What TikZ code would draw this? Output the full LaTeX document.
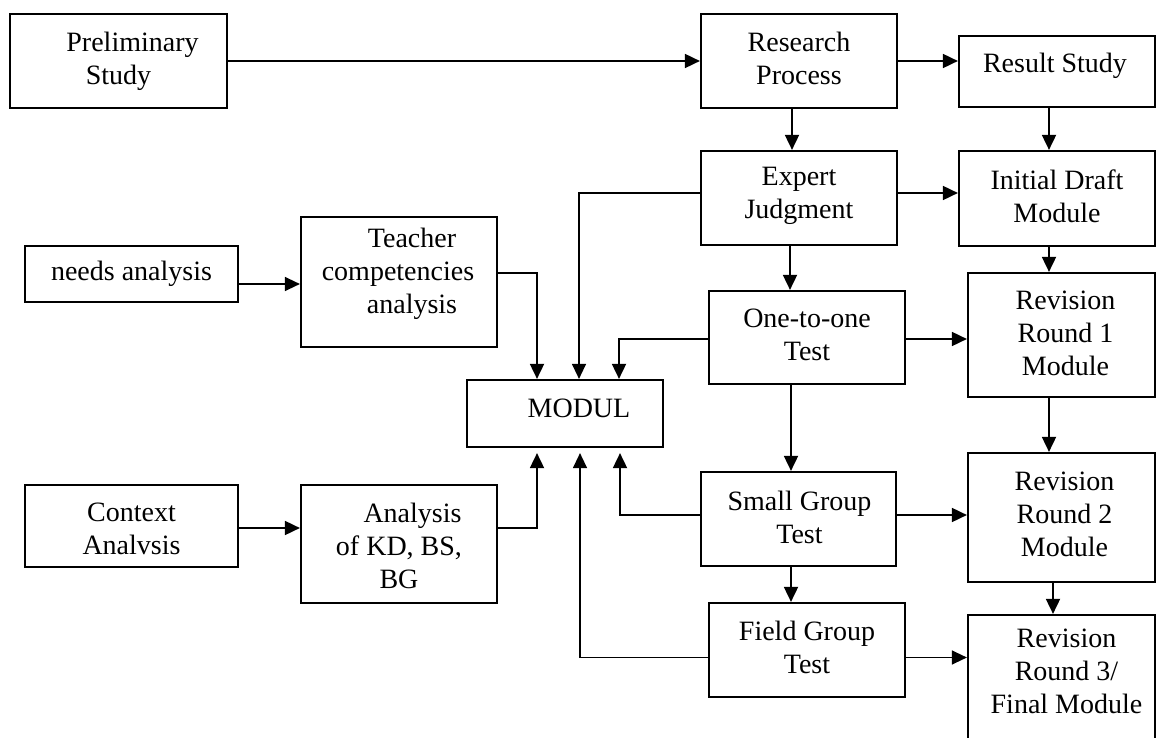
\documentclass[tikz,border=0pt]{standalone}
\usepackage{fontspec}
\setmainfont{Liberation Serif}
\usetikzlibrary{arrows.meta}
\begin{document}
\begin{tikzpicture}[x=1pt, y=-1pt,
  box/.style={draw, line width=2.2pt, inner sep=0pt},
  txt/.style={font=\fontsize{28}{33}\selectfont, align=center, inner sep=0pt},
  arr/.style={line width=1.8pt, -{Triangle[length=15pt,width=14pt]}},
  thinline/.style={line width=1.3pt},
  upgap/.style={shorten >=5pt}]
\useasboundingbox (0,0) rectangle (1157,738);

% ---- boxes ----
\node[box, minimum width=217pt, minimum height=94pt]  (PS)  at (118.5,61)  {};
\node[box, minimum width=196pt, minimum height=94pt]  (RP)  at (799,61)    {};
\node[box, minimum width=196pt, minimum height=71pt]  (RS)  at (1057,71.5) {};
\node[box, minimum width=196pt, minimum height=94pt]  (EJ)  at (799,198)   {};
\node[box, minimum width=196pt, minimum height=95pt]  (IDM) at (1057,198.5){};
\node[box, minimum width=213pt, minimum height=56pt]  (NA)  at (131.5,274) {};
\node[box, minimum width=196pt, minimum height=130pt] (TC)  at (399,282)   {};
\node[box, minimum width=196pt, minimum height=93pt]  (OTO) at (807,337.5) {};
\node[box, minimum width=187pt, minimum height=124pt] (R1)  at (1061.5,335){};
\node[box, minimum width=196pt, minimum height=67pt]  (MOD) at (565,413.5) {};
\node[box, minimum width=213pt, minimum height=82pt]  (CA)  at (131.5,526) {};
\node[box, minimum width=196pt, minimum height=118pt] (AK)  at (399,544)   {};
\node[box, minimum width=195pt, minimum height=94pt]  (SGT) at (798.5,519) {};
\node[box, minimum width=196pt, minimum height=94pt]  (FGT) at (807,650)   {};
\node[box, minimum width=187pt, minimum height=129pt] (R2)  at (1061.5,517.5){};
\node[box, minimum width=187pt, minimum height=190pt] (R3)  at (1061.5,710){};

% ---- labels ----
\node[txt] (PS-t)  at (PS.center)  {\hspace*{28pt}Preliminary\\Study};
\node[txt] (RP-t)  at ([yshift=3pt]RP.center)  {Research\\Process};
\node[txt] (RS-t)  at ([xshift=-2pt,yshift=6pt]RS.center)  {Result Study};
\node[txt] (EJ-t)  at ([yshift=2pt]EJ.center)  {Expert\\Judgment};
\node[txt] (IDM-t) at ([yshift=2pt]IDM.center) {Initial Draft\\Module};
\node[txt] (NA-t)  at (NA.center)  {needs analysis};
\node[txt] (TC-t)  at ([xshift=-1pt,yshift=8pt]TC.center) {\hspace*{28pt}Teacher\\competencies\\\hspace*{28pt}analysis};
\node[txt] (OTO-t) at ([yshift=3pt]OTO.center) {One-to-one\\Test};
\node[txt] (R1-t)  at ([xshift=4pt,yshift=2pt]R1.center) {Revision\\Round 1\\Module};
\node[txt] (MOD-t) at ([xshift=14pt,yshift=5pt]MOD.center) {MODUL};
\node[txt] (CA-t)  at ([yshift=-3pt]CA.center) {Context\\Analvsis};
\node[txt] (AK-t)  at ([yshift=-2pt]AK.center) {\hspace*{27pt}Analysis\\of KD, BS,\\BG};
\node[txt] (SGT-t) at ([xshift=1pt,yshift=2pt]SGT.center) {Small Group\\Test};
\node[txt] (FGT-t) at ([yshift=3pt]FGT.center) {Field Group\\Test};
\node[txt] (R2-t)  at ([xshift=3pt,yshift=3pt]R2.center) {Revision\\Round 2\\Module};
\node[txt] (R3-t)  at ([xshift=5pt,yshift=-57pt]R3.north) {Revision\\Round 3/\\Final Module};

% ---- connector anchors ----
\coordinate (c1)  at ([xshift=-7pt]RP.south);
\coordinate (c2)  at ([xshift=-8pt]RS.south);
\coordinate (c3)  at ([yshift=5pt]EJ.east);
\coordinate (c4)  at ([yshift=5pt]EJ.west);
\coordinate (c5)  at ([yshift=-10pt]NA.east);
\coordinate (c6)  at ([yshift=9pt]TC.east);
\coordinate (c7)  at ([xshift=-9pt]EJ.south);
\coordinate (c8)  at ([yshift=-1.5pt]OTO.west);
\coordinate (c9)  at ([yshift=-1.5pt]OTO.east);
\coordinate (c10) at ([xshift=-8pt]IDM.south);
\coordinate (c11) at ([xshift=-16pt]OTO.south);
\coordinate (c12) at ([xshift=-12.5pt]R1.south);
\coordinate (c13) at ([yshift=4pt]SGT.west);
\coordinate (c14) at ([yshift=4pt]SGT.east);
\coordinate (c15) at ([xshift=-7.5pt]SGT.south);
\coordinate (c16) at ([yshift=-7.5pt]FGT.west);
\coordinate (c17) at ([yshift=-7.5pt]FGT.east);
\coordinate (c18) at ([xshift=-8.5pt]R2.south);
\coordinate (c19) at ([yshift=-2pt]CA.east);
\coordinate (c20) at ([yshift=16pt]AK.east);

% ---- connectors ----
\draw[arr] (PS.east) -- (RP.west);
\draw[arr] (RP.east) -- (RP.east -| RS.west);
\draw[arr] (c1) -- (c1 |- EJ.north);
\draw[arr] (c2) -- (c2 |- IDM.north);
\draw[arr] (c3) -- (c3 -| IDM.west);
\draw[arr, thinline] (c4) -| ([xshift=14pt]MOD.north);
\draw[arr, thinline] (c5) -- (c5 -| TC.west);
\draw[arr] (c6) -| ([xshift=-28pt]MOD.north);
\draw[arr] (c7) -- (c7 |- OTO.north);
\draw[arr] (c8) -| ([xshift=54pt]MOD.north);
\draw[arr] (c9) -- (c9 -| R1.west);
\draw[arr] (c10) -- (c10 |- R1.north);
\draw[arr] (c11) -- (c11 |- SGT.north);
\draw[arr] (c12) -- (c12 |- R2.north);
\draw[arr, upgap] (c13) -| ([xshift=55pt]MOD.south);
\draw[arr] (c14) -- (c14 -| R2.west);
\draw[arr] (c15) -- (c15 |- FGT.north);
\draw[arr, thinline, upgap] (c16) -| ([xshift=15pt]MOD.south);
\draw[arr, thinline] (c17) -- (c17 -| R3.west);
\draw[arr] (c18) -- (c18 |- R3.north);
\draw[arr] (c19) -- (c19 -| AK.west);
\draw[arr, upgap] (c20) -| ([xshift=-28pt]MOD.south);
\end{tikzpicture}
\end{document}
